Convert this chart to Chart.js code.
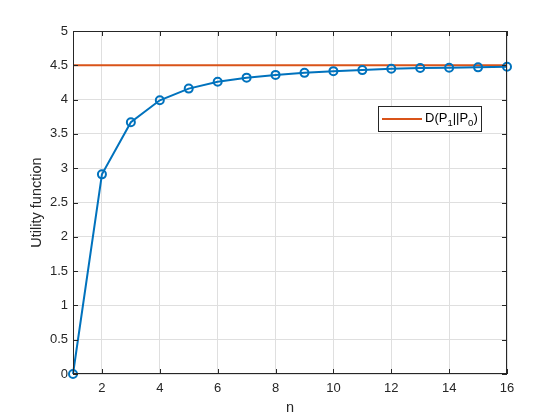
<!DOCTYPE html>
<html>
<head>
<meta charset="utf-8">
<script src="https://cdn.jsdelivr.net/npm/chart.js@4"></script>
<style>
  html, body { margin: 0; padding: 0; background: #fff; }
  #wrap { width: 560px; height: 420px; }
</style>
</head>
<body>
<div id="wrap"><canvas id="utilityChart" width="560" height="420"></canvas></div>
<script>
// valores
const nValues = [1, 2, 3, 4, 5, 6, 7, 8, 9, 10, 11, 12, 13, 14, 15, 16];
const utilityValues = [0, 2.91, 3.67, 3.99, 4.16, 4.26, 4.32, 4.36, 4.39, 4.415, 4.43, 4.45, 4.46, 4.465, 4.47, 4.48];
const divergenceValue = 4.5;
const xTicks = [2, 4, 6, 8, 10, 12, 14, 16];
const yTicks = [0, 0.5, 1, 1.5, 2, 2.5, 3, 3.5, 4, 4.5, 5];

const axisColor = "#262626";
const fontFamily = "'Liberation Sans', Arial, sans-serif";

// caixa em volta, marcas internas e legenda no estilo MATLAB
const boxPlugin = {
    id: "boxPlugin",
    afterDraw(chart) {
        const ctx = chart.ctx;
        const a = chart.chartArea;
        const xs = chart.scales.x, ys = chart.scales.y;
        ctx.save();
        ctx.strokeStyle = axisColor;
        ctx.lineWidth = 1;
        ctx.strokeRect(a.left + 0.5, a.top + 0.5, a.right - a.left - 1, a.bottom - a.top - 1);
        ctx.beginPath();
        xTicks.forEach(function (t) {
            const px = Math.round(xs.getPixelForValue(t)) + 0.5;
            ctx.moveTo(px, a.bottom); ctx.lineTo(px, a.bottom - 5);
            ctx.moveTo(px, a.top); ctx.lineTo(px, a.top + 5);
        });
        yTicks.forEach(function (t) {
            const py = Math.round(ys.getPixelForValue(t)) + 0.5;
            ctx.moveTo(a.left, py); ctx.lineTo(a.left + 5, py);
            ctx.moveTo(a.right, py); ctx.lineTo(a.right - 5, py);
        });
        ctx.stroke();

        // legenda
        const lx = 378, ly = 106, lw = 103, lh = 25;
        ctx.fillStyle = "#fff";
        ctx.fillRect(lx, ly, lw, lh);
        ctx.strokeStyle = axisColor;
        ctx.strokeRect(lx + 0.5, ly + 0.5, lw, lh);
        ctx.strokeStyle = "#D95319";
        ctx.lineWidth = 2;
        ctx.beginPath();
        ctx.moveTo(382, ly + 13); ctx.lineTo(422, ly + 13);
        ctx.stroke();
        ctx.fillStyle = "#000";
        ctx.textBaseline = "alphabetic";
        const big = "13px " + fontFamily, small = "9.5px " + fontFamily;
        let x = 425;
        const base = ly + 16;
        const parts = [["D(P", big, 0], ["1", small, 4], ["||P", big, 0], ["0", small, 4], [")", big, 0]];
        parts.forEach(function (p) {
            ctx.font = p[1];
            ctx.fillText(p[0], x, base + p[2]);
            x += ctx.measureText(p[0]).width;
        });
        ctx.restore();
    }
};

new Chart(document.getElementById("utilityChart").getContext("2d"), {
    type: "line",
    data: {
        datasets: [{
            label: "Utility",
            data: nValues.map(function (n, i) { return { x: n, y: utilityValues[i] }; }),
            borderColor: "#0072BD",
            borderWidth: 2,
            pointRadius: 4,
            pointBorderWidth: 2,
            pointBackgroundColor: "rgba(0,0,0,0)",
            pointBorderColor: "#0072BD",
            tension: 0,
            clip: false
        }, {
            label: "D(P1||P0)",
            data: [{ x: nValues[0], y: divergenceValue }, { x: nValues[nValues.length - 1], y: divergenceValue }],
            borderColor: "#D95319",
            borderWidth: 2,
            pointRadius: 0,
            tension: 0
        }]
    },
    options: {
        responsive: false,
        animation: false,
        layout: { padding: { top: 31, right: 53, left: 0, bottom: 0 } },
        plugins: {
            legend: { display: false },
            tooltip: { enabled: false }
        },
        scales: {
            x: {
                type: "linear",
                min: 1,
                max: 16,
                afterBuildTicks: function (scale) {
                    scale.ticks = xTicks.map(function (v) { return { value: v }; });
                },
                afterFit: function (scale) { scale.height = 46; },
                grid: { color: "#dfdfdf", drawTicks: false },
                border: { display: false },
                ticks: {
                    color: axisColor,
                    padding: 7,
                    maxRotation: 0,
                    font: { family: fontFamily, size: 13 },
                    callback: function (v) { return String(v); }
                },
                title: {
                    display: true,
                    text: "n",
                    color: axisColor,
                    padding: { top: 0, bottom: 3 },
                    font: { family: fontFamily, size: 14.5 }
                }
            },
            y: {
                min: 0,
                max: 5,
                afterBuildTicks: function (scale) {
                    scale.ticks = yTicks.map(function (v) { return { value: v }; });
                },
                afterFit: function (scale) { scale.width = 73; },
                grid: { color: "#dfdfdf", drawTicks: false },
                border: { display: false },
                ticks: {
                    color: axisColor,
                    padding: 5,
                    font: { family: fontFamily, size: 13 },
                    callback: function (v) { return String(v); }
                },
                title: {
                    display: true,
                    text: "Utility function",
                    color: axisColor,
                    padding: { top: 28, bottom: 0 },
                    font: { family: fontFamily, size: 14.5 }
                }
            }
        }
    },
    plugins: [boxPlugin]
});
</script>
</body>
</html>
